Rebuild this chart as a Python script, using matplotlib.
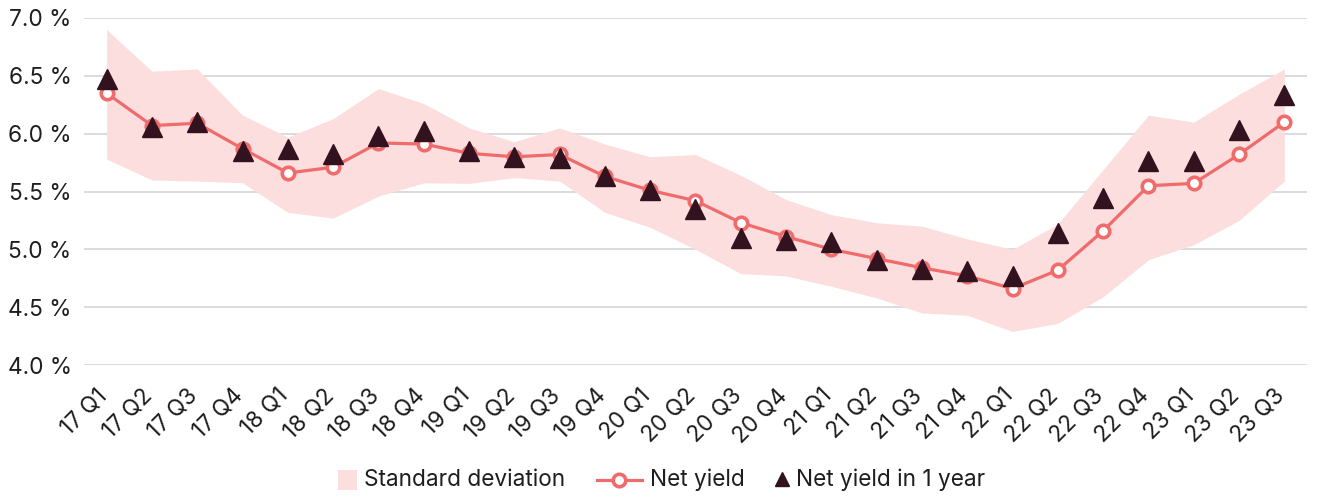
import matplotlib
matplotlib.use("Agg")
import matplotlib.pyplot as plt
import matplotlib.transforms as mtransforms
from matplotlib.lines import Line2D
from matplotlib.patches import Rectangle

quarters = ["17 Q1", "17 Q2", "17 Q3", "17 Q4", "18 Q1", "18 Q2", "18 Q3", "18 Q4",
            "19 Q1", "19 Q2", "19 Q3", "19 Q4", "20 Q1", "20 Q2", "20 Q3", "20 Q4",
            "21 Q1", "21 Q2", "21 Q3", "21 Q4", "22 Q1", "22 Q2", "22 Q3", "22 Q4",
            "23 Q1", "23 Q2", "23 Q3"]

net_yield = [6.35, 6.07, 6.09, 5.87, 5.66, 5.71, 5.92, 5.91,
             5.83, 5.80, 5.82, 5.63, 5.51, 5.42, 5.23, 5.11,
             5.00, 4.92, 4.84, 4.77, 4.66, 4.82, 5.16, 5.55,
             5.57, 5.82, 6.10]

net_yield_1y = [6.47, 6.06, 6.10, 5.85, 5.87, 5.82, 5.98, 6.02,
                5.85, 5.80, 5.79, 5.63, 5.51, 5.35, 5.10, 5.08,
                5.06, 4.91, 4.83, 4.81, 4.77, 5.14, 5.44, 5.76,
                5.76, 6.03, 6.33]

std_upper = [6.90, 6.54, 6.56, 6.16, 5.97, 6.13, 6.39, 6.26,
             6.05, 5.93, 6.05, 5.91, 5.80, 5.82, 5.64, 5.43,
             5.30, 5.23, 5.20, 5.09, 5.00, 5.22, 5.69, 6.16,
             6.10, 6.34, 6.56]

std_lower = [5.78, 5.60, 5.59, 5.575, 5.32, 5.27, 5.46, 5.575,
             5.57, 5.62, 5.59, 5.32, 5.19, 5.00, 4.79, 4.77,
             4.68, 4.58, 4.45, 4.43, 4.29, 4.36, 4.59, 4.91,
             5.04, 5.25, 5.59]

yticks = [4.0, 4.5, 5.0, 5.5, 6.0, 6.5, 7.0]
ytick_labels = ["4.0 %", "4.5 %", "5.0 %", "5.5 %", "6.0 %", "6.5 %", "7.0 %"]
legend_labels = ["Standard deviation", "Net yield", "Net yield in 1 year"]

BAND = "#FCDEDE"
LINE = "#F06B6B"
TRI = "#33121F"
GRID = "#D9D9D9"
TXT = "#1E1E1E"
FS = 16.3

plt.rcParams["font.family"] = ["Inter", "DejaVu Sans"]

W, H = 1317, 497
fig = plt.figure(figsize=(W / 100, H / 100), dpi=100)
ax = fig.add_axes([84 / W, 1 - 365 / H, (1307 - 84) / W, (365 - 18) / H])

x = list(range(len(quarters)))
ax.fill_between(x, std_lower, std_upper, color=BAND, lw=0, zorder=1)
ax.plot(x, net_yield, color=LINE, lw=2.3, marker="o", markersize=9,
        markerfacecolor="white", markeredgecolor=LINE, markeredgewidth=2.6, zorder=3)
ax.plot(x, net_yield_1y, lw=0, marker="^", markersize=14, color=TRI, zorder=4)

ax.set_xlim(-0.5, len(quarters) - 0.5)
ax.set_ylim(4.0, 7.0)
ax.set_yticks(yticks)
ax.set_yticklabels(ytick_labels)
ax.set_xticks(x)
ax.set_xticklabels(quarters, rotation=45, ha="right", rotation_mode="default")

ax.grid(axis="y", color=GRID, lw=1.3, zorder=0)
ax.set_axisbelow(True)
for s in ax.spines.values():
    s.set_visible(False)
ax.tick_params(axis="both", length=0, labelsize=FS, colors=TXT)
ax.tick_params(axis="y", pad=9)
ax.tick_params(axis="x", pad=14)

offset = mtransforms.ScaledTranslation(5 / 100, 0, fig.dpi_scale_trans)
for lbl in ax.get_xticklabels():
    lbl.set_transform(lbl.get_transform() + offset)

# Manual legend laid out in figure pixels
fig.canvas.draw()
renderer = fig.canvas.get_renderer()
ly = H - 480  # legend centre y in display pixels (from bottom)
texts = []
for lab in legend_labels:
    t = fig.text(0, ly / H, lab, fontsize=FS, color=TXT, va="center", ha="left",
                 transform=fig.transFigure)
    texts.append(t)
widths = [t.get_window_extent(renderer).width for t in texts]
patch_w, line_w, tri_w = 19, 45, 13
pad, gap = 8, 31
total = patch_w + pad + widths[0] + gap + line_w + pad + widths[1] + gap + tri_w + pad + widths[2]
cx = 661.5
x0 = cx - total / 2

fig.patches.append(Rectangle((x0 / W, (ly - 10) / H), patch_w / W, 20 / H,
                             transform=fig.transFigure, facecolor=BAND, edgecolor="none"))
xt = x0 + patch_w + pad
texts[0].set_x(xt / W)
xl = xt + widths[0] + gap
fig.lines.append(Line2D([xl / W, (xl + line_w) / W], [ly / H, ly / H], transform=fig.transFigure,
                        color=LINE, lw=2.3))
fig.lines.append(Line2D([(xl + line_w / 2) / W], [ly / H], transform=fig.transFigure,
                        lw=0, marker="o", markersize=9, markerfacecolor="white",
                        markeredgecolor=LINE, markeredgewidth=2.6))
xt = xl + line_w + pad
texts[1].set_x(xt / W)
xm = xt + widths[1] + gap
fig.lines.append(Line2D([(xm + tri_w / 2) / W], [(ly + 1) / H], transform=fig.transFigure,
                        lw=0, marker="^", markersize=10, color=TRI))
xt = xm + tri_w + pad
texts[2].set_x(xt / W)

fig.savefig("out.png", dpi=100)
